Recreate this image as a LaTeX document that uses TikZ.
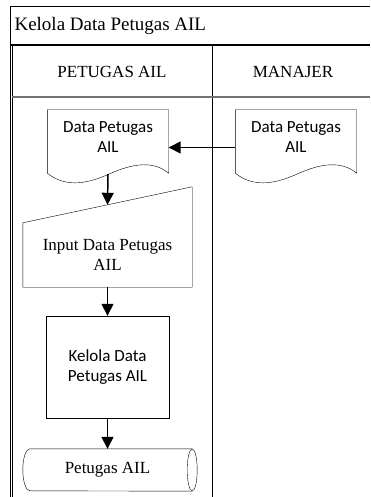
\documentclass[tikz,border=0pt]{standalone}
\usepackage{fontspec}
\setmainfont{Liberation Serif}
\newfontfamily\calibri{Carlito}
\usetikzlibrary{arrows.meta}

\begin{document}
\begin{tikzpicture}[x=1pt,y=-1pt,
    tms/.style={font=\fontsize{17}{20}\selectfont,align=center},
    cal/.style={font=\calibri\fontsize{17}{20}\selectfont,align=center},
    doc/.style={cal,minimum width=121pt,minimum height=55pt,inner sep=0pt},
    arr/.style={-{Triangle[width=12pt,length=12pt]},line width=1.5pt}]

  \useasboundingbox (0,0) rectangle (370,497);

  % swimlanes
  \draw[line width=1pt] (370,7) -- (10,7) -- (10,497);
  \draw[line width=1.2pt] (10,45) -- (370,45);
  \draw[line width=0.8pt] (12,45) -- (12,497);
  \draw[line width=0.8pt] (212,45) -- (212,497);
  \draw[line width=1.5pt,black!55] (12,97) -- (370,97);

  \node[tms,font=\fontsize{19}{22}\selectfont,anchor=west] (title) at (11,26)
    {Kelola Data Petugas AIL};
  \node[tms] (lanept) at (112,72) {PETUGAS AIL};
  \node[tms] (laneman) at (293,72) {MANAJER};

  \node[doc] (docpt) at (108,137.5) {Data Petugas\\AIL};
  \node[doc] (docman) at (296,137.5) {Data Petugas\\AIL};
  \foreach \d in {docpt,docman}
    \draw[thin] ([yshift=-8pt]\d.south west) -- (\d.north west) -- (\d.north east)
      -- ([yshift=-8pt]\d.south east) .. controls +(-18,-15) and +(18,-8) .. ++(-60,1)
      .. controls +(-18,8) and +(20,16) .. ([yshift=-8pt]\d.south west);

  \node[tms,minimum width=169pt,minimum height=64pt,inner sep=0pt] (input)
    at (107.5,255) {Input Data Petugas\\AIL};
  \draw[thin] (input.south west) -- (input.north west) -- ([yshift=36pt]input.north east)
    -- (input.south east) -- cycle;

  \node[cal,draw,thin,minimum width=123pt,minimum height=102pt] (kelola)
    at (107.5,367) {Kelola Data\\Petugas AIL};

  \node[tms,minimum width=169pt,minimum height=42pt,inner sep=0pt] (simpan)
    at (107.5,470) {Petugas AIL};
  \draw[thin] (simpan.east) ellipse [x radius=5pt,y radius=21pt];
  \draw[thin] (simpan.north east) -- ([xshift=7pt]simpan.north west)
    arc [start angle=90,end angle=270,x radius=7pt,y radius=21pt]
    -- (simpan.south east);

  \draw[arr] ([yshift=-10pt]docman.west) -- ([yshift=-10pt]docpt.east);
  \draw[arr] ([yshift=-9pt]docpt.south) -- ([yshift=18pt]input.north);
  \draw[arr] (input.south) -- (kelola.north);
  \draw[arr] (kelola.south) -- (simpan.north);

\end{tikzpicture}
\end{document}
